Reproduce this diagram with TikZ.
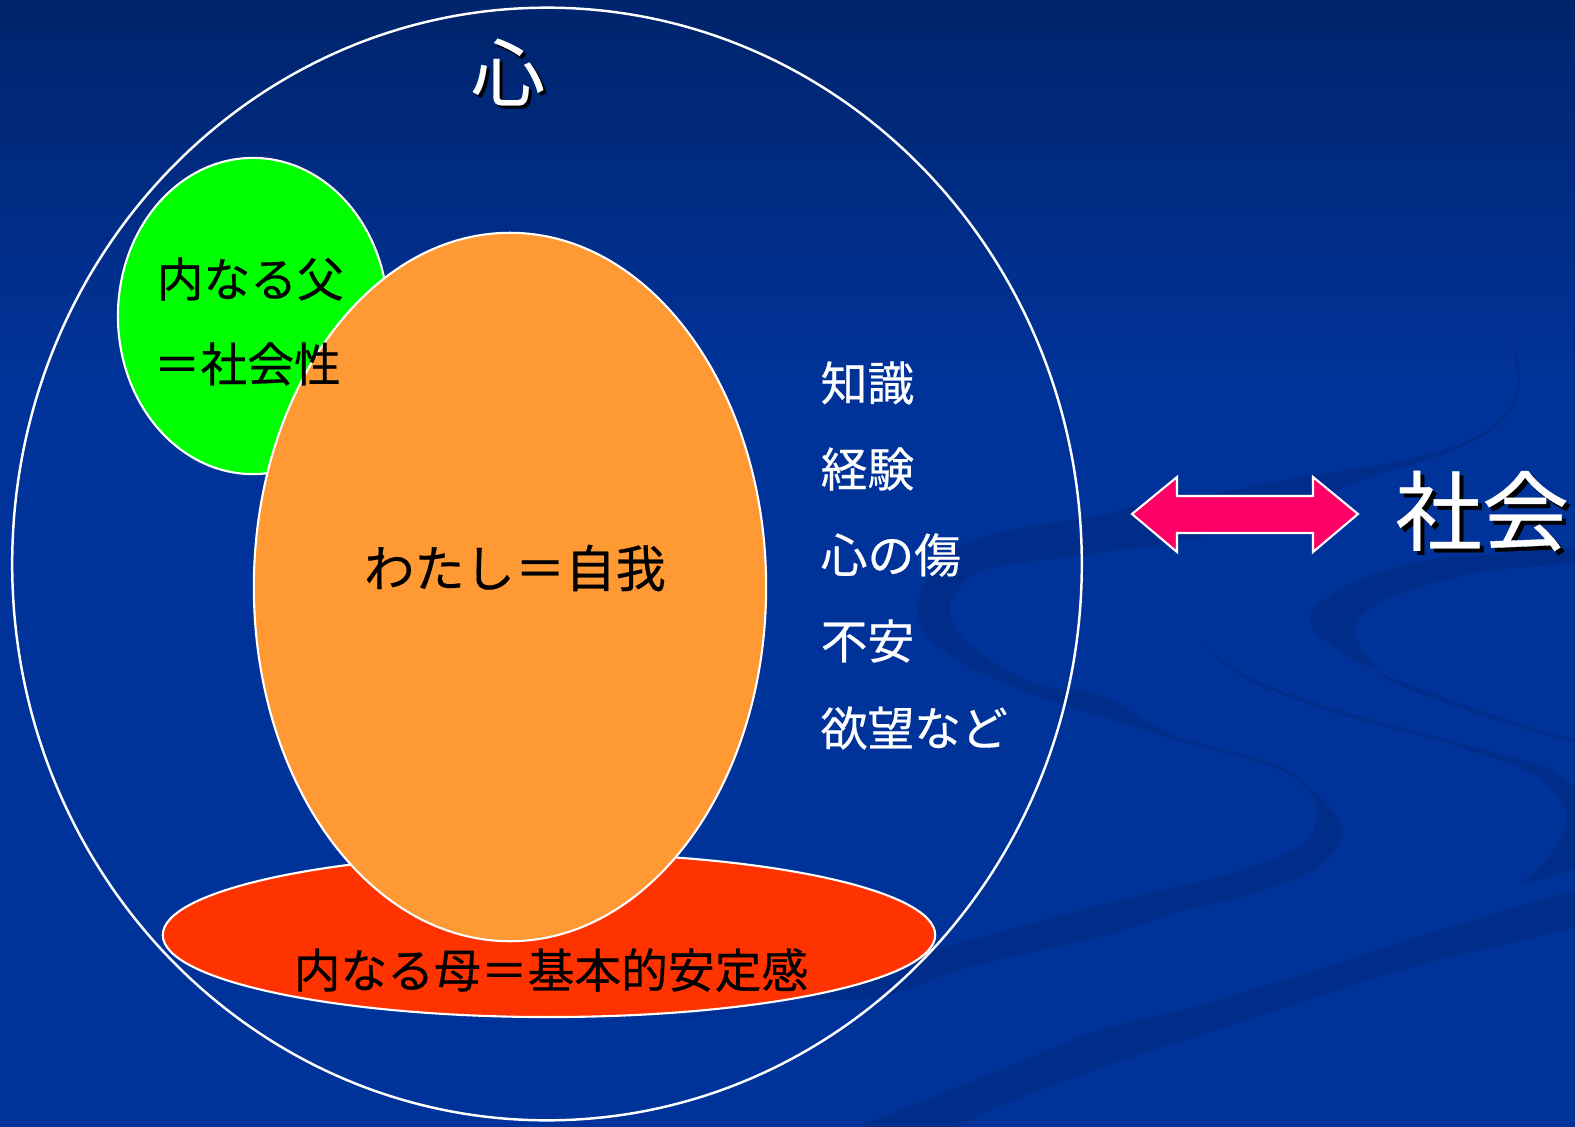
\documentclass[tikz,border=0pt]{standalone}
\usepackage{fontspec}
\setmainfont{Noto Sans CJK JP}[FakeBold=0.4]
\usetikzlibrary{shapes.geometric}
\definecolor{bgtop}{RGB}{0,36,108}
\definecolor{bgmain}{RGB}{0,51,153}
\definecolor{swirl}{RGB}{0,45,138}
\definecolor{egogreen}{RGB}{0,255,0}
\definecolor{egoorange}{RGB}{255,153,51}
\definecolor{motherred}{RGB}{255,51,0}
\definecolor{arrowpink}{RGB}{255,0,102}
\begin{document}
\begin{tikzpicture}[x=0.01cm,y=-0.01cm,
  blob/.style={ellipse, draw=white, line width=0.6pt, inner sep=0pt},
  darklabel/.style={text=black, inner sep=0pt, font=\fontsize{13.3pt}{16pt}\selectfont},
  lightlabel/.style={text=white, inner sep=0pt, font=\fontsize{13.3pt}{16pt}\selectfont},
  bigshadow/.style={text=black, inner sep=0pt},
  bigtext/.style={text=white, inner sep=0pt},
  swirlband/.style={fill=swirl}
]
\useasboundingbox (0,0) rectangle (1575,1127);
% background
\fill[top color=bgtop, bottom color=bgmain] (0,0) rectangle (1575,380);
\fill[bgmain] (0,379) rectangle (1575,1127);
% swirls
\begin{scope}
\clip (0,0) rectangle (1575,1127);
\fill[swirlband] plot[smooth] coordinates {(1492,318) (1512,350) (1518,383) (1508,410) (1482,433) (1433,453) (1367,467) (1300,477) (1233,490) (1133,507) (1100,515) (1000,532) (945,555) (917,603) (930,640) (975,670) (1040,697) (1100,716) (1175,740) (1275,768) (1312,795) (1316,823) (1300,847) (1242,870) (1175,887) (1100,905) (970,940) (880,967) (780,995) (680,1018)}
 -- plot[smooth] coordinates {(680,1020) (780,1000) (880,997) (970,967) (1100,937) (1175,913) (1242,897) (1308,873) (1338,847) (1338,817) (1308,787) (1275,764) (1175,736) (1100,695) (1033,683) (967,643) (950,607) (967,580) (1000,566) (1100,553) (1200,537) (1300,505) (1367,478) (1433,458) (1482,437) (1510,413) (1520,385) (1515,352) (1492,318)} -- cycle;
\fill[swirlband] plot[smooth] coordinates {(1580,548) (1442,558) (1380,572) (1342,588) (1312,610) (1315,632) (1342,653) (1382,673) (1442,697) (1508,720) (1580,742)}
 -- plot[smooth] coordinates {(1580,745) (1508,724) (1442,702) (1392,682) (1375,667) (1357,640) (1358,620) (1392,597) (1475,573) (1580,563)} -- cycle;
\fill[swirlband] plot[smooth] coordinates {(1198,625) (1210,652) (1258,685) (1342,715) (1442,742) (1530,772) (1560,800) (1566,825) (1548,858) (1520,885)}
 -- (1580,868) -- (1580,790) -- plot[smooth] coordinates {(1548,768) (1442,738) (1342,711) (1258,681) (1209,650) (1198,625)} -- cycle;
\fill[swirlband] plot[smooth] coordinates {(1580,888) (1408,940) (1323,968) (1200,1005) (1100,1030) (1000,1070) (900,1110) (850,1130)}
 -- plot[smooth] coordinates {(950,1130) (1013,1100) (1100,1068) (1200,1035) (1323,995) (1408,968) (1580,926)} -- cycle;
\end{scope}
% shapes
\node[blob, line width=0.7pt, minimum width=10.69cm, minimum height=11.12cm] (kokoro) at (547,564) {};
\node[blob, fill=egogreen, minimum width=2.70cm, minimum height=3.16cm] (father) at (253,316) {};
\node[blob, fill=motherred, minimum width=7.72cm, minimum height=1.64cm] (mother) at (549,935) {};
\node[blob, fill=egoorange, minimum width=5.12cm, minimum height=7.08cm] (ego) at (510,587) {};
% arrow
\draw[fill=arrowpink, draw=white, line width=0.6pt]
  (1132,514) -- (1177,477) -- (1177,496) -- (1313,496) -- (1313,477) -- (1358,514)
  -- (1313,552) -- (1313,533) -- (1177,533) -- (1177,552) -- cycle;
% texts
\node[bigshadow, font=\fontsize{21pt}{24pt}\selectfont] (kokoro-sh) at (511,75) {心};
\node[bigtext, font=\fontsize{21pt}{24pt}\selectfont] (kokoro-lbl) at (508,72) {心};
\node[darklabel, anchor=west] (father-l1) at (156,279) {内なる父};
\node[darklabel, anchor=west] (father-l2) at (153,364) {＝社会性};
\node[darklabel, font=\fontsize{14.3pt}{17pt}\selectfont] (ego-lbl) at (515,568) {わたし＝自我};
\node[darklabel] (mother-lbl) at (551,970) {内なる母＝基本的安定感};
\node[lightlabel, anchor=west] (item1) at (820,383) {知識};
\node[lightlabel, anchor=west] (item2) at (820,469) {経験};
\node[lightlabel, anchor=west] (item3) at (820,555) {心の傷};
\node[lightlabel, anchor=west] (item4) at (820,641) {不安};
\node[lightlabel, anchor=west] (item5) at (820,728) {欲望など};
\node[bigshadow, font=\fontsize{24.7pt}{28pt}\selectfont] (society-sh) at (1486,515) {社会};
\node[bigtext, font=\fontsize{24.7pt}{28pt}\selectfont] (society) at (1482,511) {社会};
\end{tikzpicture}
\end{document}
